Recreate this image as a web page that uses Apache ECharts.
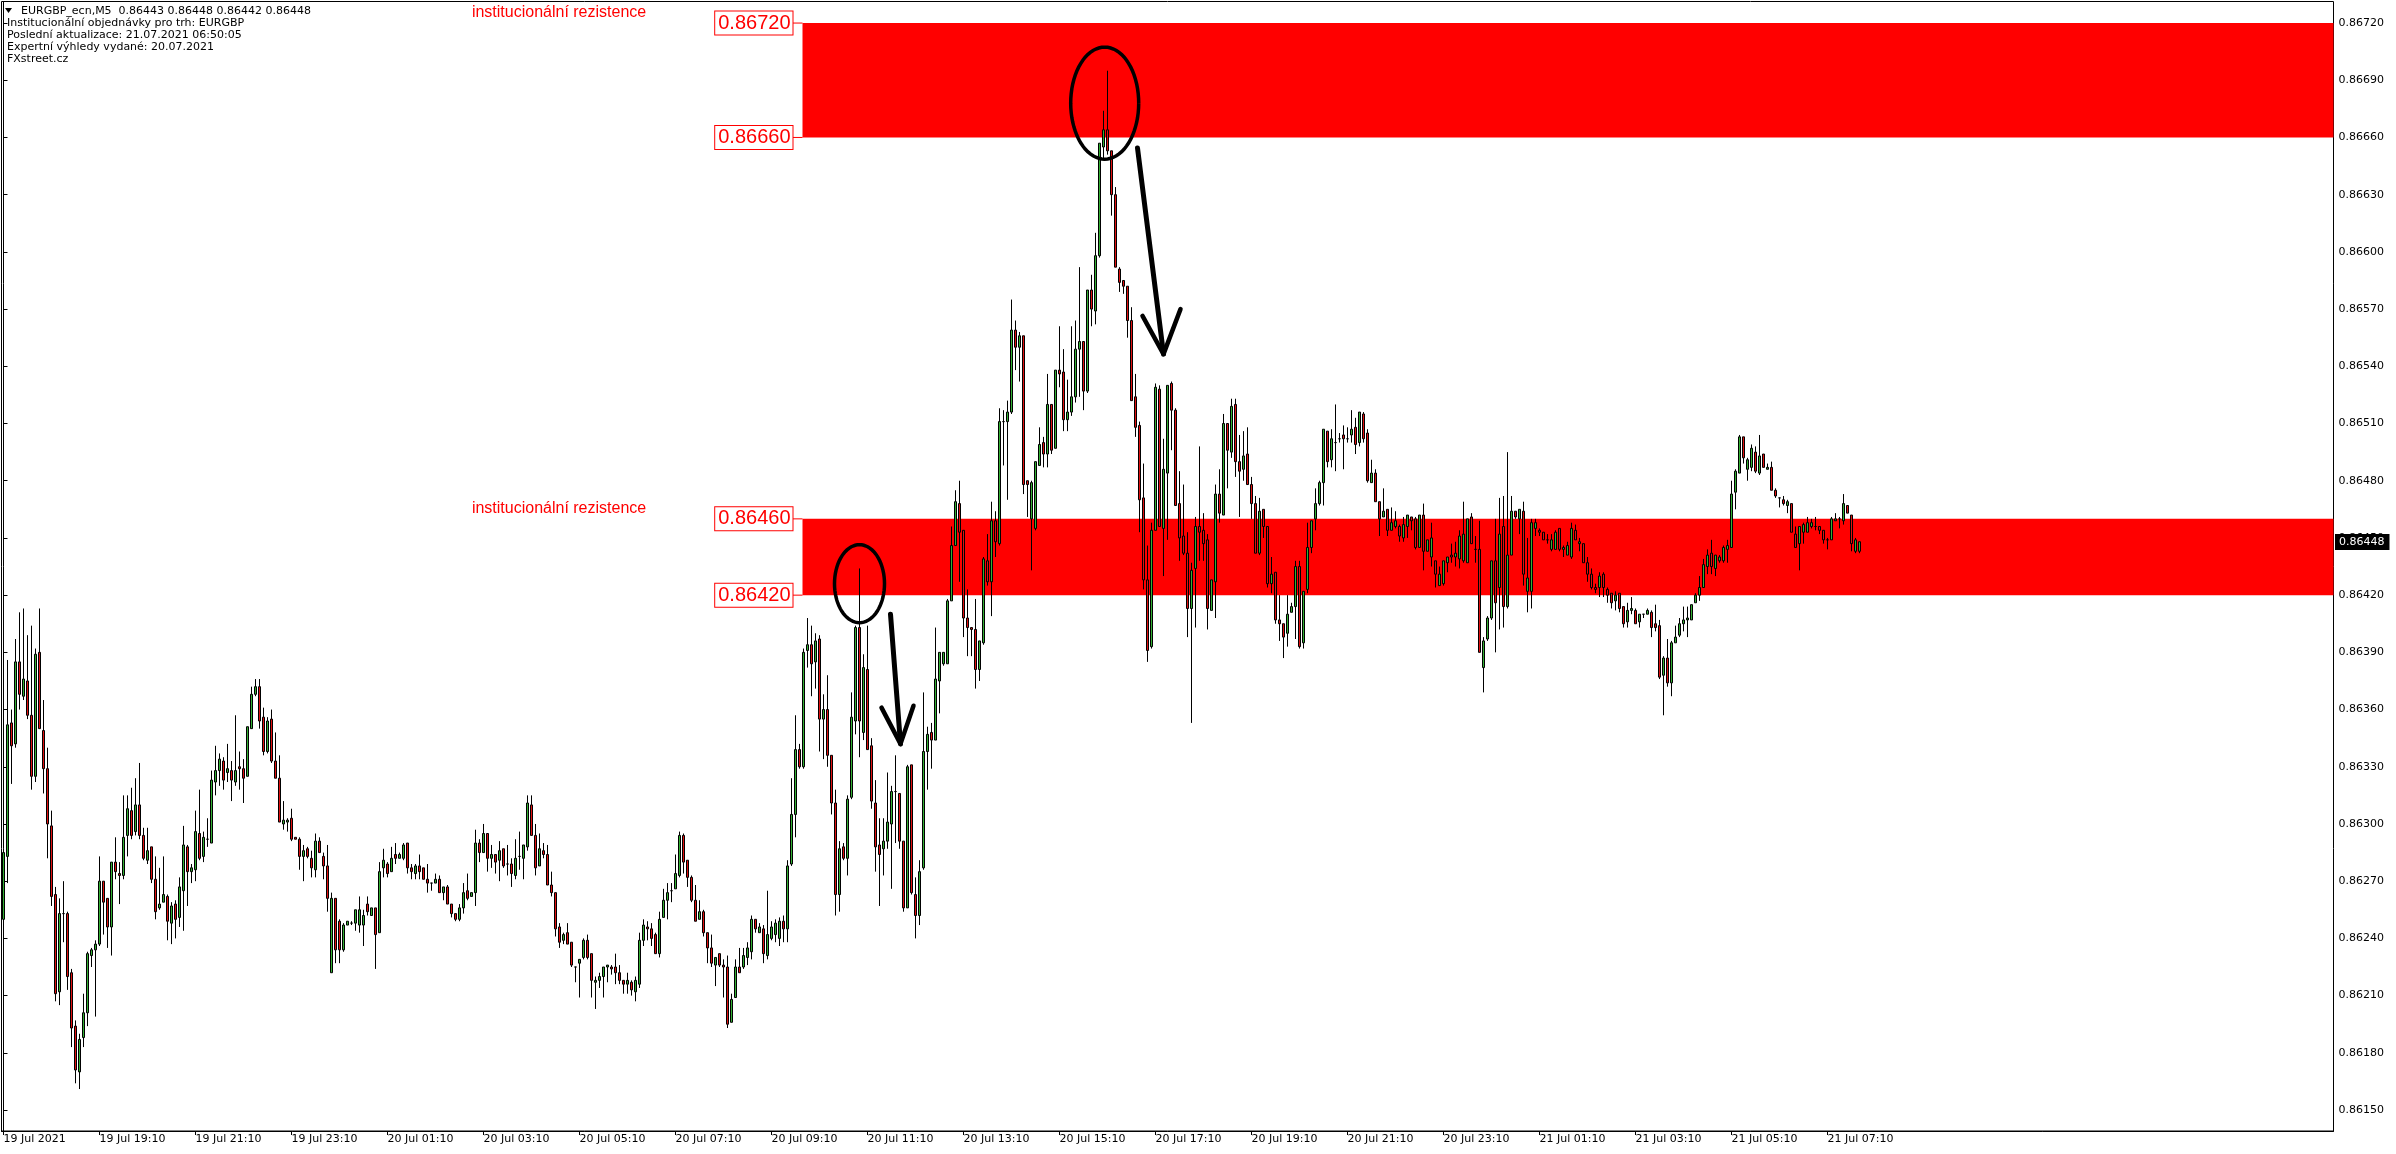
<!DOCTYPE html>
<html><head><meta charset="utf-8">
<script src="https://cdn.jsdelivr.net/npm/echarts@6/dist/echarts.min.js"></script>
<style>html,body{margin:0;padding:0;background:#fff;overflow:hidden}#c{width:2396px;height:1154px}</style>
</head><body><div id="c"></div>
<script>
// ---- DATA (EURGBP M5, 19 Jul 2021 17:10 .. 21 Jul 2021 07:50) ----
const openP = [
0.86250,0.86283,0.86353,0.86342,0.86385,0.86367,0.86375,0.86357,0.86325,0.86390,
0.86349,0.86329,0.86299,0.86263,0.86212,0.86253,0.86253,0.86222,0.86194,0.86170,
0.86188,0.86201,0.86231,0.86234,0.86237,0.86270,0.86261,0.86246,0.86280,0.86274,
0.86273,0.86294,0.86307,0.86296,0.86310,0.86294,0.86281,0.86288,0.86271,0.86256,
0.86259,0.86262,0.86248,0.86258,0.86251,0.86265,0.86288,0.86275,0.86276,0.86295,
0.86283,0.86292,0.86290,0.86322,0.86328,0.86333,0.86327,0.86328,0.86322,0.86330,
0.86329,0.86325,0.86350,0.86368,0.86372,0.86356,0.86338,0.86355,0.86333,0.86324,
0.86300,0.86301,0.86303,0.86293,0.86292,0.86283,0.86287,0.86282,0.86276,0.86291,
0.86283,0.86278,0.86222,0.86261,0.86249,0.86234,0.86247,0.86248,0.86248,0.86247,
0.86247,0.86258,0.86252,0.86256,0.86243,0.86277,0.86279,0.86275,0.86284,0.86282,
0.86282,0.86290,0.86277,0.86274,0.86278,0.86277,0.86271,0.86269,0.86269,0.86271,
0.86264,0.86267,0.86258,0.86253,0.86250,0.86256,0.86265,0.86262,0.86264,0.86290,
0.86285,0.86295,0.86282,0.86284,0.86281,0.86287,0.86279,0.86279,0.86273,0.86283,
0.86282,0.86288,0.86310,0.86294,0.86278,0.86286,0.86284,0.86268,0.86264,0.86246,
0.86239,0.86243,0.86238,0.86225,0.86227,0.86230,0.86239,0.86232,0.86217,0.86218,
0.86220,0.86225,0.86225,0.86225,0.86222,0.86218,0.86216,0.86217,0.86212,0.86216,
0.86239,0.86246,0.86245,0.86242,0.86232,0.86251,0.86260,0.86265,0.86266,0.86273,
0.86294,0.86281,0.86272,0.86260,0.86250,0.86254,0.86243,0.86235,0.86226,0.86232,
0.86226,0.86225,0.86196,0.86209,0.86225,0.86225,0.86230,0.86233,0.86250,0.86243,
0.86245,0.86231,0.86240,0.86242,0.86240,0.86249,0.86245,0.86279,0.86305,0.86339,
0.86330,0.86391,0.86394,0.86385,0.86397,0.86355,0.86360,0.86336,0.86311,0.86263,
0.86288,0.86282,0.86314,0.86354,0.86403,0.86348,0.86381,0.86341,0.86311,0.86289,
0.86287,0.86291,0.86300,0.86317,0.86316,0.86291,0.86256,0.86331,0.86263,0.86252,
0.86277,0.86338,0.86348,0.86344,0.86375,0.86384,0.86384,0.86417,0.86446,0.86468,
0.86454,0.86408,0.86403,0.86402,0.86381,0.86395,0.86438,0.86427,0.86459,0.86447,
0.86511,0.86511,0.86516,0.86559,0.86550,0.86556,0.86480,0.86460,0.86455,0.86488,
0.86500,0.86494,0.86520,0.86497,0.86538,0.86537,0.86512,0.86516,0.86524,0.86549,
0.86553,0.86527,0.86580,0.86569,0.86598,0.86655,0.86664,0.86653,0.86630,0.86591,
0.86585,0.86582,0.86564,0.86524,0.86509,0.86471,0.86428,0.86393,0.86454,0.86528,
0.86455,0.86484,0.86531,0.86517,0.86468,0.86451,0.86442,0.86413,0.86434,0.86456,
0.86454,0.86449,0.86412,0.86427,0.86473,0.86462,0.86510,0.86495,0.86520,0.86490,
0.86486,0.86494,0.86478,0.86468,0.86442,0.86465,0.86456,0.86426,0.86432,0.86407,
0.86405,0.86400,0.86411,0.86414,0.86435,0.86395,0.86423,0.86445,0.86460,0.86468,
0.86479,0.86506,0.86491,0.86500,0.86502,0.86504,0.86502,0.86504,0.86508,0.86500,
0.86515,0.86505,0.86479,0.86484,0.86469,0.86461,0.86465,0.86454,0.86456,0.86456,
0.86450,0.86456,0.86461,0.86460,0.86445,0.86462,0.86443,0.86440,0.86438,0.86425,
0.86426,0.86437,0.86441,0.86440,0.86439,0.86438,0.86437,0.86461,0.86444,0.86444,
0.86382,0.86397,0.86408,0.86438,0.86424,0.86456,0.86414,0.86441,0.86464,0.86460,
0.86464,0.86422,0.86422,0.86455,0.86454,0.86453,0.86449,0.86444,0.86444,0.86455,
0.86444,0.86441,0.86440,0.86454,0.86447,0.86447,0.86437,0.86431,0.86424,0.86424,
0.86431,0.86423,0.86421,0.86417,0.86421,0.86414,0.86406,0.86412,0.86412,0.86406,
0.86410,0.86410,0.86411,0.86405,0.86404,0.86378,0.86387,0.86374,0.86395,0.86399,
0.86405,0.86407,0.86407,0.86416,0.86420,0.86424,0.86435,0.86442,0.86434,0.86438,
0.86438,0.86444,0.86445,0.86474,0.86484,0.86503,0.86486,0.86487,0.86495,0.86484,
0.86494,0.86486,0.86487,0.86475,0.86471,0.86470,0.86467,0.86468,0.86452,0.86447,
0.86453,0.86453,0.86456,0.86456,0.86456,0.86454,0.86449,0.86449,0.86459,0.86460,
0.86459,0.86467,0.86462,0.86443,0.86443];
const closeP = [
0.86285,0.86352,0.86341,0.86385,0.86368,0.86376,0.86357,0.86325,0.86389,0.86350,
0.86329,0.86300,0.86262,0.86211,0.86253,0.86253,0.86220,0.86193,0.86171,0.86187,
0.86201,0.86232,0.86234,0.86237,0.86270,0.86259,0.86246,0.86280,0.86275,0.86273,
0.86293,0.86308,0.86294,0.86310,0.86294,0.86282,0.86286,0.86271,0.86254,0.86258,
0.86263,0.86249,0.86257,0.86250,0.86267,0.86289,0.86275,0.86277,0.86296,0.86282,
0.86293,0.86292,0.86323,0.86328,0.86334,0.86323,0.86329,0.86323,0.86328,0.86329,
0.86324,0.86351,0.86368,0.86372,0.86354,0.86338,0.86354,0.86333,0.86324,0.86301,
0.86302,0.86302,0.86292,0.86292,0.86283,0.86286,0.86283,0.86277,0.86291,0.86285,
0.86278,0.86261,0.86261,0.86234,0.86234,0.86247,0.86249,0.86248,0.86255,0.86255,
0.86252,0.86254,0.86256,0.86242,0.86275,0.86281,0.86274,0.86282,0.86282,0.86284,
0.86289,0.86277,0.86275,0.86278,0.86275,0.86271,0.86269,0.86269,0.86271,0.86264,
0.86267,0.86258,0.86253,0.86250,0.86256,0.86264,0.86261,0.86264,0.86290,0.86285,
0.86295,0.86282,0.86284,0.86280,0.86286,0.86278,0.86279,0.86274,0.86282,0.86283,
0.86289,0.86311,0.86294,0.86277,0.86287,0.86284,0.86268,0.86264,0.86245,0.86238,
0.86242,0.86237,0.86226,0.86225,0.86229,0.86239,0.86230,0.86218,0.86218,0.86220,
0.86225,0.86226,0.86224,0.86222,0.86218,0.86216,0.86218,0.86213,0.86218,0.86239,
0.86247,0.86245,0.86240,0.86232,0.86250,0.86260,0.86264,0.86265,0.86274,0.86294,
0.86280,0.86272,0.86260,0.86249,0.86254,0.86243,0.86235,0.86227,0.86230,0.86226,
0.86225,0.86195,0.86208,0.86225,0.86222,0.86231,0.86235,0.86250,0.86245,0.86246,
0.86232,0.86242,0.86246,0.86248,0.86249,0.86245,0.86278,0.86305,0.86339,0.86330,
0.86390,0.86394,0.86384,0.86396,0.86355,0.86360,0.86336,0.86311,0.86263,0.86287,
0.86282,0.86313,0.86356,0.86403,0.86354,0.86382,0.86339,0.86312,0.86288,0.86284,
0.86291,0.86301,0.86317,0.86317,0.86291,0.86256,0.86330,0.86264,0.86252,0.86275,
0.86338,0.86347,0.86344,0.86376,0.86390,0.86390,0.86417,0.86446,0.86469,0.86453,
0.86408,0.86403,0.86402,0.86381,0.86396,0.86439,0.86427,0.86459,0.86448,0.86511,
0.86511,0.86516,0.86559,0.86550,0.86556,0.86478,0.86478,0.86479,0.86490,0.86499,
0.86494,0.86520,0.86496,0.86538,0.86536,0.86512,0.86516,0.86524,0.86549,0.86553,
0.86527,0.86580,0.86570,0.86598,0.86657,0.86664,0.86653,0.86630,0.86592,0.86584,
0.86582,0.86564,0.86522,0.86508,0.86470,0.86428,0.86391,0.86454,0.86529,0.86456,
0.86486,0.86530,0.86517,0.86467,0.86450,0.86442,0.86413,0.86433,0.86456,0.86453,
0.86447,0.86413,0.86428,0.86473,0.86463,0.86510,0.86496,0.86519,0.86490,0.86485,
0.86493,0.86478,0.86468,0.86442,0.86464,0.86456,0.86426,0.86431,0.86407,0.86405,
0.86398,0.86410,0.86414,0.86435,0.86393,0.86422,0.86445,0.86459,0.86468,0.86479,
0.86507,0.86490,0.86502,0.86500,0.86502,0.86502,0.86502,0.86507,0.86499,0.86516,
0.86502,0.86480,0.86484,0.86469,0.86460,0.86464,0.86454,0.86458,0.86459,0.86451,
0.86457,0.86462,0.86459,0.86445,0.86462,0.86443,0.86449,0.86450,0.86431,0.86431,
0.86438,0.86440,0.86440,0.86442,0.86451,0.86452,0.86460,0.86447,0.86444,0.86390,
0.86396,0.86408,0.86438,0.86416,0.86452,0.86414,0.86441,0.86464,0.86461,0.86465,
0.86431,0.86429,0.86458,0.86458,0.86453,0.86449,0.86449,0.86449,0.86453,0.86444,
0.86445,0.86446,0.86455,0.86449,0.86448,0.86437,0.86431,0.86424,0.86423,0.86430,
0.86424,0.86420,0.86416,0.86420,0.86413,0.86405,0.86412,0.86413,0.86405,0.86410,
0.86410,0.86412,0.86403,0.86403,0.86377,0.86387,0.86374,0.86395,0.86398,0.86405,
0.86407,0.86408,0.86415,0.86420,0.86424,0.86436,0.86441,0.86435,0.86441,0.86440,
0.86445,0.86446,0.86473,0.86485,0.86503,0.86492,0.86491,0.86497,0.86485,0.86493,
0.86487,0.86487,0.86475,0.86472,0.86471,0.86468,0.86469,0.86453,0.86445,0.86456,
0.86457,0.86458,0.86458,0.86456,0.86454,0.86449,0.86449,0.86460,0.86460,0.86460,
0.86468,0.86463,0.86447,0.86449,0.86448];
const highP = [
0.86287,0.86386,0.86360,0.86397,0.86411,0.86413,0.86399,0.86404,0.86392,0.86413,
0.86365,0.86340,0.86307,0.86267,0.86261,0.86270,0.86254,0.86224,0.86197,0.86190,
0.86211,0.86233,0.86235,0.86239,0.86283,0.86270,0.86261,0.86280,0.86293,0.86280,
0.86315,0.86315,0.86319,0.86324,0.86332,0.86298,0.86298,0.86288,0.86283,0.86277,
0.86283,0.86263,0.86259,0.86260,0.86272,0.86299,0.86289,0.86279,0.86307,0.86318,
0.86296,0.86303,0.86328,0.86341,0.86337,0.86335,0.86342,0.86333,0.86357,0.86338,
0.86334,0.86351,0.86372,0.86376,0.86376,0.86361,0.86356,0.86360,0.86348,0.86336,
0.86312,0.86303,0.86308,0.86293,0.86293,0.86289,0.86288,0.86286,0.86295,0.86293,
0.86285,0.86289,0.86264,0.86261,0.86250,0.86248,0.86249,0.86249,0.86255,0.86262,
0.86255,0.86262,0.86256,0.86256,0.86280,0.86287,0.86280,0.86288,0.86290,0.86285,
0.86290,0.86290,0.86279,0.86279,0.86284,0.86277,0.86279,0.86269,0.86274,0.86273,
0.86267,0.86268,0.86258,0.86253,0.86258,0.86269,0.86274,0.86264,0.86297,0.86292,
0.86300,0.86295,0.86289,0.86284,0.86291,0.86287,0.86289,0.86282,0.86292,0.86296,
0.86289,0.86315,0.86315,0.86300,0.86295,0.86290,0.86289,0.86275,0.86264,0.86248,
0.86243,0.86248,0.86238,0.86225,0.86229,0.86240,0.86242,0.86232,0.86220,0.86222,
0.86225,0.86226,0.86226,0.86232,0.86226,0.86218,0.86222,0.86218,0.86220,0.86243,
0.86250,0.86249,0.86248,0.86243,0.86254,0.86266,0.86269,0.86269,0.86284,0.86296,
0.86295,0.86281,0.86273,0.86268,0.86260,0.86255,0.86243,0.86242,0.86230,0.86232,
0.86229,0.86231,0.86211,0.86229,0.86235,0.86235,0.86238,0.86252,0.86250,0.86248,
0.86247,0.86265,0.86249,0.86250,0.86251,0.86252,0.86281,0.86324,0.86357,0.86342,
0.86392,0.86408,0.86404,0.86400,0.86399,0.86368,0.86378,0.86336,0.86318,0.86291,
0.86290,0.86315,0.86369,0.86404,0.86434,0.86389,0.86404,0.86345,0.86323,0.86303,
0.86303,0.86327,0.86320,0.86336,0.86316,0.86291,0.86331,0.86331,0.86272,0.86281,
0.86369,0.86351,0.86353,0.86403,0.86390,0.86390,0.86418,0.86456,0.86475,0.86480,
0.86454,0.86423,0.86403,0.86418,0.86396,0.86440,0.86452,0.86469,0.86464,0.86518,
0.86517,0.86522,0.86575,0.86564,0.86558,0.86556,0.86480,0.86480,0.86490,0.86508,
0.86503,0.86536,0.86520,0.86538,0.86561,0.86549,0.86533,0.86561,0.86564,0.86592,
0.86553,0.86580,0.86588,0.86610,0.86657,0.86674,0.86695,0.86653,0.86634,0.86592,
0.86585,0.86582,0.86571,0.86536,0.86511,0.86489,0.86446,0.86458,0.86531,0.86530,
0.86502,0.86530,0.86532,0.86518,0.86485,0.86478,0.86453,0.86437,0.86461,0.86498,
0.86463,0.86452,0.86428,0.86478,0.86486,0.86515,0.86510,0.86523,0.86523,0.86504,
0.86506,0.86508,0.86482,0.86472,0.86471,0.86465,0.86456,0.86440,0.86432,0.86420,
0.86405,0.86420,0.86416,0.86438,0.86438,0.86422,0.86458,0.86459,0.86476,0.86480,
0.86507,0.86506,0.86507,0.86520,0.86505,0.86509,0.86508,0.86517,0.86513,0.86516,
0.86516,0.86507,0.86491,0.86486,0.86469,0.86476,0.86465,0.86466,0.86464,0.86457,
0.86461,0.86462,0.86461,0.86461,0.86462,0.86468,0.86449,0.86458,0.86438,0.86435,
0.86438,0.86440,0.86447,0.86448,0.86454,0.86469,0.86460,0.86463,0.86451,0.86459,
0.86398,0.86409,0.86438,0.86460,0.86471,0.86472,0.86495,0.86472,0.86464,0.86465,
0.86469,0.86450,0.86460,0.86460,0.86455,0.86453,0.86452,0.86452,0.86454,0.86455,
0.86446,0.86448,0.86458,0.86457,0.86450,0.86447,0.86440,0.86434,0.86426,0.86432,
0.86432,0.86424,0.86421,0.86422,0.86421,0.86414,0.86416,0.86419,0.86413,0.86410,
0.86410,0.86413,0.86412,0.86415,0.86407,0.86388,0.86397,0.86396,0.86404,0.86408,
0.86414,0.86414,0.86415,0.86421,0.86430,0.86439,0.86444,0.86449,0.86441,0.86441,
0.86446,0.86449,0.86480,0.86486,0.86504,0.86503,0.86492,0.86499,0.86498,0.86504,
0.86494,0.86489,0.86490,0.86476,0.86471,0.86472,0.86470,0.86468,0.86456,0.86456,
0.86458,0.86461,0.86460,0.86461,0.86456,0.86454,0.86450,0.86461,0.86463,0.86461,
0.86473,0.86467,0.86462,0.86450,0.86448];
const lowP = [
0.86239,0.86269,0.86321,0.86340,0.86360,0.86365,0.86355,0.86318,0.86322,0.86350,
0.86316,0.86282,0.86257,0.86207,0.86205,0.86238,0.86213,0.86183,0.86164,0.86161,
0.86183,0.86194,0.86225,0.86199,0.86236,0.86242,0.86235,0.86231,0.86271,0.86258,
0.86271,0.86283,0.86292,0.86294,0.86292,0.86281,0.86279,0.86269,0.86250,0.86255,
0.86259,0.86239,0.86237,0.86240,0.86246,0.86244,0.86257,0.86269,0.86270,0.86281,
0.86280,0.86288,0.86290,0.86315,0.86320,0.86318,0.86322,0.86312,0.86320,0.86318,
0.86311,0.86325,0.86350,0.86367,0.86350,0.86336,0.86337,0.86332,0.86324,0.86301,
0.86297,0.86296,0.86291,0.86292,0.86276,0.86270,0.86282,0.86272,0.86272,0.86285,
0.86271,0.86254,0.86222,0.86227,0.86227,0.86233,0.86247,0.86247,0.86244,0.86243,
0.86236,0.86252,0.86252,0.86224,0.86243,0.86272,0.86272,0.86275,0.86279,0.86282,
0.86281,0.86274,0.86271,0.86271,0.86271,0.86271,0.86264,0.86265,0.86269,0.86264,
0.86260,0.86258,0.86251,0.86249,0.86249,0.86253,0.86260,0.86262,0.86257,0.86280,
0.86285,0.86275,0.86277,0.86274,0.86270,0.86277,0.86273,0.86267,0.86271,0.86276,
0.86271,0.86286,0.86294,0.86273,0.86278,0.86282,0.86268,0.86262,0.86241,0.86235,
0.86237,0.86237,0.86225,0.86217,0.86209,0.86229,0.86229,0.86209,0.86203,0.86214,
0.86209,0.86217,0.86221,0.86216,0.86216,0.86211,0.86211,0.86210,0.86207,0.86214,
0.86236,0.86239,0.86236,0.86232,0.86230,0.86251,0.86250,0.86259,0.86266,0.86272,
0.86274,0.86267,0.86259,0.86249,0.86250,0.86241,0.86227,0.86225,0.86215,0.86225,
0.86209,0.86193,0.86196,0.86209,0.86222,0.86224,0.86226,0.86229,0.86243,0.86243,
0.86227,0.86229,0.86239,0.86238,0.86236,0.86238,0.86238,0.86278,0.86293,0.86329,
0.86329,0.86382,0.86367,0.86371,0.86338,0.86334,0.86330,0.86305,0.86252,0.86254,
0.86281,0.86273,0.86313,0.86347,0.86335,0.86344,0.86339,0.86308,0.86275,0.86257,
0.86273,0.86287,0.86266,0.86290,0.86287,0.86254,0.86256,0.86263,0.86240,0.86247,
0.86276,0.86318,0.86329,0.86344,0.86358,0.86383,0.86384,0.86417,0.86446,0.86427,
0.86398,0.86388,0.86388,0.86371,0.86375,0.86394,0.86425,0.86409,0.86440,0.86446,
0.86488,0.86470,0.86515,0.86538,0.86532,0.86473,0.86461,0.86433,0.86454,0.86488,
0.86487,0.86487,0.86494,0.86497,0.86529,0.86506,0.86506,0.86514,0.86521,0.86524,
0.86517,0.86526,0.86561,0.86562,0.86597,0.86648,0.86651,0.86619,0.86592,0.86579,
0.86578,0.86555,0.86522,0.86503,0.86453,0.86423,0.86385,0.86392,0.86454,0.86456,
0.86430,0.86449,0.86496,0.86467,0.86438,0.86441,0.86398,0.86353,0.86403,0.86438,
0.86438,0.86402,0.86412,0.86408,0.86458,0.86462,0.86476,0.86492,0.86482,0.86461,
0.86480,0.86478,0.86460,0.86442,0.86441,0.86450,0.86424,0.86421,0.86405,0.86396,
0.86387,0.86393,0.86411,0.86397,0.86392,0.86392,0.86421,0.86442,0.86454,0.86467,
0.86467,0.86487,0.86487,0.86485,0.86500,0.86486,0.86500,0.86500,0.86494,0.86498,
0.86500,0.86479,0.86479,0.86469,0.86451,0.86461,0.86451,0.86454,0.86455,0.86448,
0.86448,0.86450,0.86454,0.86444,0.86445,0.86433,0.86443,0.86435,0.86424,0.86425,
0.86425,0.86432,0.86437,0.86435,0.86434,0.86437,0.86437,0.86447,0.86437,0.86390,
0.86369,0.86396,0.86407,0.86390,0.86402,0.86403,0.86413,0.86441,0.86460,0.86452,
0.86425,0.86411,0.86413,0.86451,0.86451,0.86449,0.86447,0.86443,0.86444,0.86443,
0.86440,0.86441,0.86439,0.86449,0.86443,0.86437,0.86427,0.86423,0.86421,0.86419,
0.86419,0.86416,0.86413,0.86412,0.86411,0.86403,0.86403,0.86410,0.86405,0.86403,
0.86408,0.86410,0.86398,0.86401,0.86376,0.86357,0.86372,0.86367,0.86395,0.86398,
0.86401,0.86398,0.86407,0.86416,0.86417,0.86424,0.86431,0.86431,0.86430,0.86437,
0.86437,0.86437,0.86445,0.86465,0.86484,0.86489,0.86480,0.86485,0.86484,0.86483,
0.86487,0.86486,0.86475,0.86471,0.86466,0.86467,0.86463,0.86453,0.86445,0.86433,
0.86447,0.86453,0.86455,0.86454,0.86452,0.86447,0.86444,0.86449,0.86459,0.86455,
0.86457,0.86463,0.86443,0.86442,0.86442];

const priceTicks = [0.86150,0.86180,0.86210,0.86240,0.86270,0.86300,0.86330,0.86360,0.86390,0.86420,
  0.86450,0.86480,0.86510,0.86540,0.86570,0.86600,0.86630,0.86660,0.86690,0.86720];
const bandLevels = [[0.86660, 0.86720], [0.86420, 0.86460]];
const bandStartBar = 199.75;
const lastPrice = 0.86448;
const headerLines = [
  'EURGBP_ecn,M5  0.86443 0.86448 0.86442 0.86448',
  'Institucionální objednávky pro trh: EURGBP',
  'Poslední aktualizace: 21.07.2021 06:50:05',
  'Expertní výhledy vydané: 20.07.2021',
  'FXstreet.cz'
];
const zoneTitle = 'institucionální rezistence';
const firstAxisLabel = '19 Jul 2021';
const MONTHS = ['Jan','Feb','Mar','Apr','May','Jun','Jul','Aug','Sep','Oct','Nov','Dec'];
const START_MS = Date.UTC(2021, 6, 19, 17, 10);
const STEP_MS = 5 * 60 * 1000;
const TOTAL_SLOTS = 583;      // visible slots in the chart window (chart shifted left)
const LABEL_EVERY = 24;       // one time label every 2 hours
// annotations in data units [bar index, price]
const ellipses = [
  {c: [214, 0.86426], rx: 25, ry: 39},
  {c: [275.3, 0.86678], rx: 34, ry: 56}
];
const arrows = [
  {from: [221.75, 0.86410], tip: [224.25, 0.86342], armL: [219.5, 0.86361], armR: [227.5, 0.86362]},
  {from: [283.5, 0.866545], tip: [290.0, 0.865464], armL: [284.75, 0.865664], armR: [294.25, 0.86570]}
];

// ---- BUILD ----
const nBars = openP.length;
const pad2 = n => (n < 10 ? '0' : '') + n;
const categories = [];
for (let i = 0; i < TOTAL_SLOTS; i++) {
  const d = new Date(START_MS + i * STEP_MS);
  categories.push(d.getUTCDate() + ' ' + MONTHS[d.getUTCMonth()] + ' ' + pad2(d.getUTCHours()) + ':' + pad2(d.getUTCMinutes()));
}
const candles = [];
for (let i = 0; i < nBars; i++) candles.push([openP[i], closeP[i], lowP[i], highP[i]]);
const showLab = (i) => i % LABEL_EVERY === 0 && i < nBars;

const FONT = 'DejaVu Sans';
const chart = echarts.init(document.getElementById('c'), null, {width: 2396, height: 1154});
chart.setOption({
  animation: false,
  backgroundColor: '#ffffff',
  textStyle: {fontFamily: FONT},
  grid: {left: 1.5, right: 62.5, top: 1.5, bottom: 23, show: true, borderColor: '#000', borderWidth: 1, containLabel: false},
  xAxis: [{
    type: 'category', data: categories, boundaryGap: true,
    axisLine: {show: true, lineStyle: {color: '#000', width: 1}},
    axisTick: {show: true, interval: showLab, alignWithLabel: true, length: 4, lineStyle: {color: '#000'}},
    axisLabel: {interval: showLab, align: 'left', color: '#000', fontFamily: FONT, fontSize: 11, margin: 3,
      formatter: (v, i) => i === 0 ? firstAxisLabel : v},
    splitLine: {show: false}
  }, {
    type: 'value', show: false, min: -0.5, max: TOTAL_SLOTS - 0.5
  }],
  yAxis: {
    type: 'value', position: 'right', min: 0.86139, max: 0.867313, scale: true,
    axisLine: {show: true, lineStyle: {color: '#000', width: 1}},
    axisTick: {show: true, customValues: priceTicks, length: 4, lineStyle: {color: '#000'}},
    axisLabel: {customValues: priceTicks, formatter: v => v.toFixed(5), color: '#000', fontFamily: FONT, fontSize: 11, margin: 5},
    splitLine: {show: false}
  },
  series: [{
    type: 'line', xAxisIndex: 1, data: [], z: 1, silent: true,
    markArea: {silent: true, itemStyle: {color: '#ff0000', opacity: 1},
      data: bandLevels.map(([lo, hi]) => [{xAxis: bandStartBar, yAxis: hi}, {xAxis: TOTAL_SLOTS - 0.5, yAxis: lo}])}
  }, {
    type: 'candlestick', xAxisIndex: 0, data: candles, z: 3, barWidth: 2,
    itemStyle: {color: '#33b033', color0: '#e01010', borderColor: '#000', borderColor0: '#000', borderColorDoji: '#000', borderWidth: 1}
  }]
});

// ---- annotations (positions through the chart's own scales) ----
const px = (p) => chart.convertToPixel({seriesIndex: 0}, p);
const g = [];
// header
g.push({type: 'polygon', shape: {points: [[5, 8], [12, 8], [8.5, 13]]}, style: {fill: '#000'}, z: 100});
headerLines.forEach((t, k) => g.push({type: 'text', x: k === 0 ? 21 : 7, y: 11.5 + 12 * k,
  style: {text: t, fill: '#000', font: '11px "DejaVu Sans"', verticalAlign: 'middle'}, z: 100}));
// zone titles
bandLevels.forEach(([lo, hi]) => {
  const p = px([117.1, hi]);
  g.push({type: 'text', x: p[0], y: p[1] - 10, style: {text: zoneTitle, fill: '#ff0000', font: '16px "Liberation Sans"', verticalAlign: 'middle'}, z: 100});
});
// band value boxes
const xb = px([bandStartBar, lastPrice])[0];
bandLevels.flat().forEach(v => {
  const y = px([bandStartBar, v])[1];
  g.push({type: 'line', shape: {x1: xb - 10, y1: y, x2: xb, y2: y}, style: {stroke: '#ff0000', lineWidth: 1}, z: 100});
  g.push({type: 'text', x: xb - 10, y: y, style: {text: v.toFixed(5), fill: '#ff0000', font: '20px "Liberation Sans"',
    align: 'right', verticalAlign: 'middle', backgroundColor: '#fff', borderColor: '#ff0000', borderWidth: 1, padding: [2, 2, 1, 3]}, z: 100});
});
// last price tag on the price axis
const lp = px([TOTAL_SLOTS - 0.5, lastPrice]);
g.push({type: 'text', x: lp[0] + 1.5, y: Math.round(lp[1]), style: {text: lastPrice.toFixed(5), fill: '#fff', font: '11px "DejaVu Sans"',
  align: 'left', verticalAlign: 'middle', backgroundColor: '#000', padding: [3, 5, 2, 4]}, z: 120});
// ellipses
ellipses.forEach(e => {
  const c = px(e.c); const pts = [];
  for (let k = 0; k <= 72; k++) { const t = k / 72 * Math.PI * 2; pts.push([c[0] + e.rx * Math.cos(t), c[1] + e.ry * Math.sin(t)]); }
  g.push({type: 'polyline', shape: {points: pts}, style: {stroke: '#000', lineWidth: 3.5, fill: null}, z: 110});
});
// arrows
arrows.forEach(a => {
  const f = px(a.from), t = px(a.tip), l = px(a.armL), r = px(a.armR);
  g.push({type: 'polyline', shape: {points: [f, t]}, style: {stroke: '#000', lineWidth: 5, lineCap: 'round', fill: null}, z: 110});
  g.push({type: 'polyline', shape: {points: [l, t, r]}, style: {stroke: '#000', lineWidth: 4.5, lineCap: 'round', lineJoin: 'round', fill: null}, z: 110});
});
chart.setOption({graphic: g});
</script>
</body></html>
